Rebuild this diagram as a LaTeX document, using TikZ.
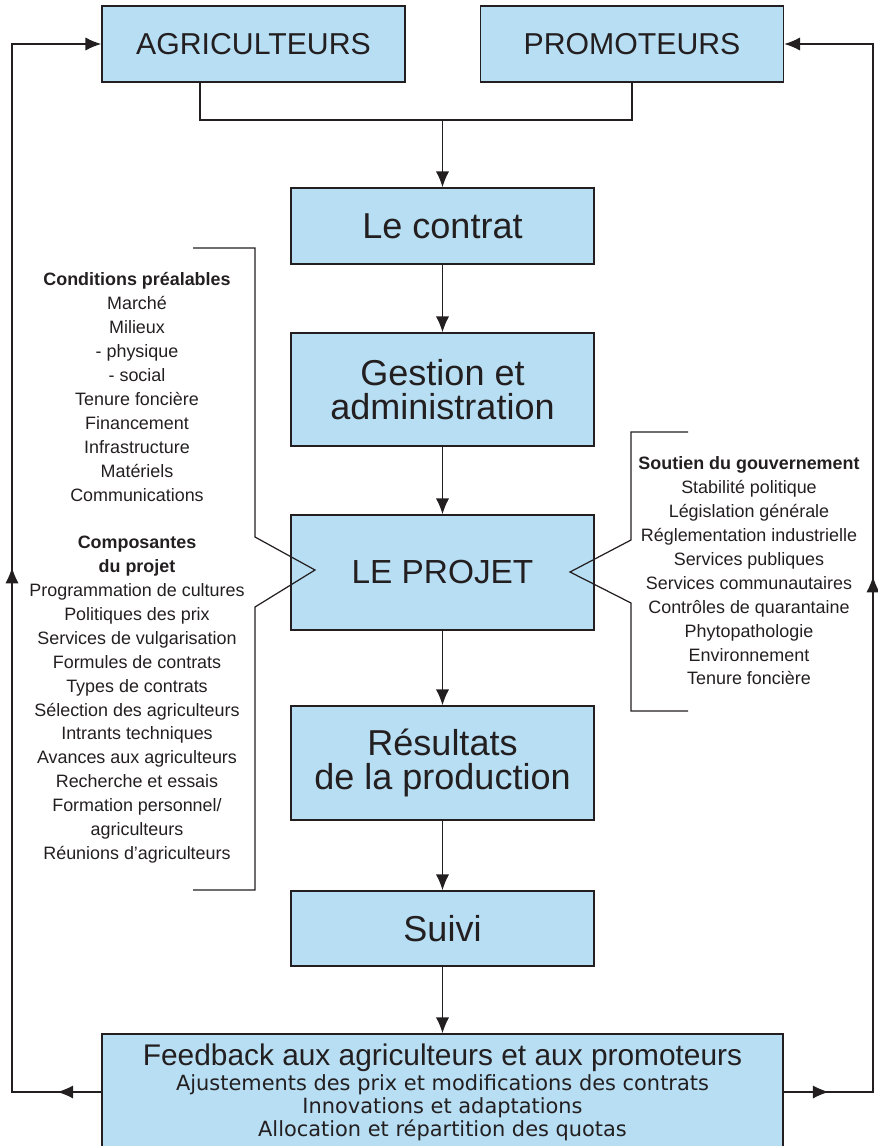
\documentclass[tikz,border=0pt]{standalone}
\usepackage{fontspec}
\setmainfont{Liberation Sans}
\newfontfamily\widefont{DejaVu Sans}
\usetikzlibrary{arrows.meta,decorations.markings}
\definecolor{boxblue}{RGB}{183,222,243}
\definecolor{ink}{RGB}{35,31,32}

\begin{document}
\begin{tikzpicture}[x=0.02cm,y=-0.02cm,
  box/.style={draw=ink,fill=boxblue,line width=0.85pt,minimum width=6.06cm,inner sep=0pt,align=center,text=ink},
  bigfont/.style={font=\fontsize{20.5}{19}\selectfont},
  link/.style={draw=ink,line width=0.7pt},
  tip/.style={-{Latex[length=9pt,width=7.5pt]}},
  loopmarks/.style 2 args={postaction={decorate},decoration={markings,
    mark=at position #1 with {\arrow{Latex[length=9pt,width=7.5pt]}},
    mark=at position #2 with {\arrow{Latex[length=9pt,width=7.5pt]}}}},
  sidelist/.style={align=center,text=ink,font=\fontsize{10.2}{13.6}\selectfont,inner sep=0pt}]
\useasboundingbox (0,0) rectangle (878,1146);

% boxes
\node[box,minimum height=1.52cm,font=\fontsize{17.2}{20}\selectfont] (agri) at (253.5,44) {AGRICULTEURS};
\node[box,minimum height=1.52cm,font=\fontsize{17.2}{20}\selectfont] (prom) at (632,44) {PROMOTEURS};
\node[box,bigfont,minimum height=1.52cm] (contrat) at (442.5,226) {Le contrat};
\node[box,bigfont,minimum height=2.26cm] (gestion) at (442.5,389.5) {Gestion et\\administration};
\node[box,minimum height=2.30cm,font=\fontsize{19}{20}\selectfont] (projet) at (442.5,572.5) {LE PROJET};
\node[box,bigfont,minimum height=2.28cm] (result) at (442.5,763) {Résultats\\de la production};
\node[box,bigfont,minimum height=1.50cm] (suivi) at (442.5,928.5) {Suivi};
\node[box,minimum width=13.62cm,minimum height=2.32cm,font=\widefont\fontsize{11.9}{13}\selectfont] (fb) at (442.5,1092)
  {{\rmfamily\fontsize{17}{13.6}\selectfont Feedback aux agriculteurs et aux promoteurs}\\[1.5pt]
   Ajustements des prix et modifications des contrats\\
   Innovations et adaptations\\
   Allocation et répartition des quotas};

% side lists
\node[sidelist] (prealable) at (137,568)
  {\textbf{Conditions préalables}\\Marché\\Milieux\\- physique\\- social\\Tenure foncière\\Financement\\Infrastructure\\Matériels\\Communications\\[13.6pt]
   \textbf{Composantes}\\\textbf{du projet}\\Programmation de cultures\\Politiques des prix\\Services de vulgarisation\\Formules de contrats\\Types de contrats\\Sélection des agriculteurs\\Intrants techniques\\Avances aux agriculteurs\\Recherche et essais\\Formation personnel/\\agriculteurs\\Réunions d'agriculteurs};
\node[sidelist] (soutien) at (749,571)
  {\textbf{Soutien du gouvernement}\\Stabilité politique\\Législation générale\\Réglementation industrielle\\Services publiques\\Services communautaires\\Contrôles de quarantaine\\Phytopathologie\\Environnement\\Tenure foncière};

% main flow
\coordinate (join) at (442.5,120);
\draw[link] ([xshift=-1.07cm]agri.south) |- (join) -| (prom.south);
\draw[link,tip] (join) -- (contrat);
\draw[link,tip] (contrat) -- (gestion);
\draw[link,tip] (gestion) -- (projet);
\draw[link,tip] (projet) -- (result);
\draw[link,tip] (result) -- (suivi);
\draw[link,tip] (suivi) -- (fb);

% feedback loops
\coordinate (lbot) at (12,1092);
\coordinate (ltop) at (12,44);
\coordinate (rbot) at (873,1092);
\coordinate (rtop) at (873,44);
\draw[link,tip,loopmarks={0.88cm}{12.28cm}] (fb.west) -- (lbot) -- (ltop) -- (agri.west);
\draw[link,tip,loopmarks={0.9cm}{12.1cm}] (fb.east) -- (rbot) -- (rtop) -- (prom.east);

% brackets
\draw[link] (193,248) -- (255,248) -- (255,537) -- (315,570) -- (255,607) -- (255,890) -- (193,890);
\draw[link] (688,432) -- (631,432) -- (631,540) -- (570,572) -- (631,603) -- (631,711) -- (688,711);
\end{tikzpicture}
\end{document}
